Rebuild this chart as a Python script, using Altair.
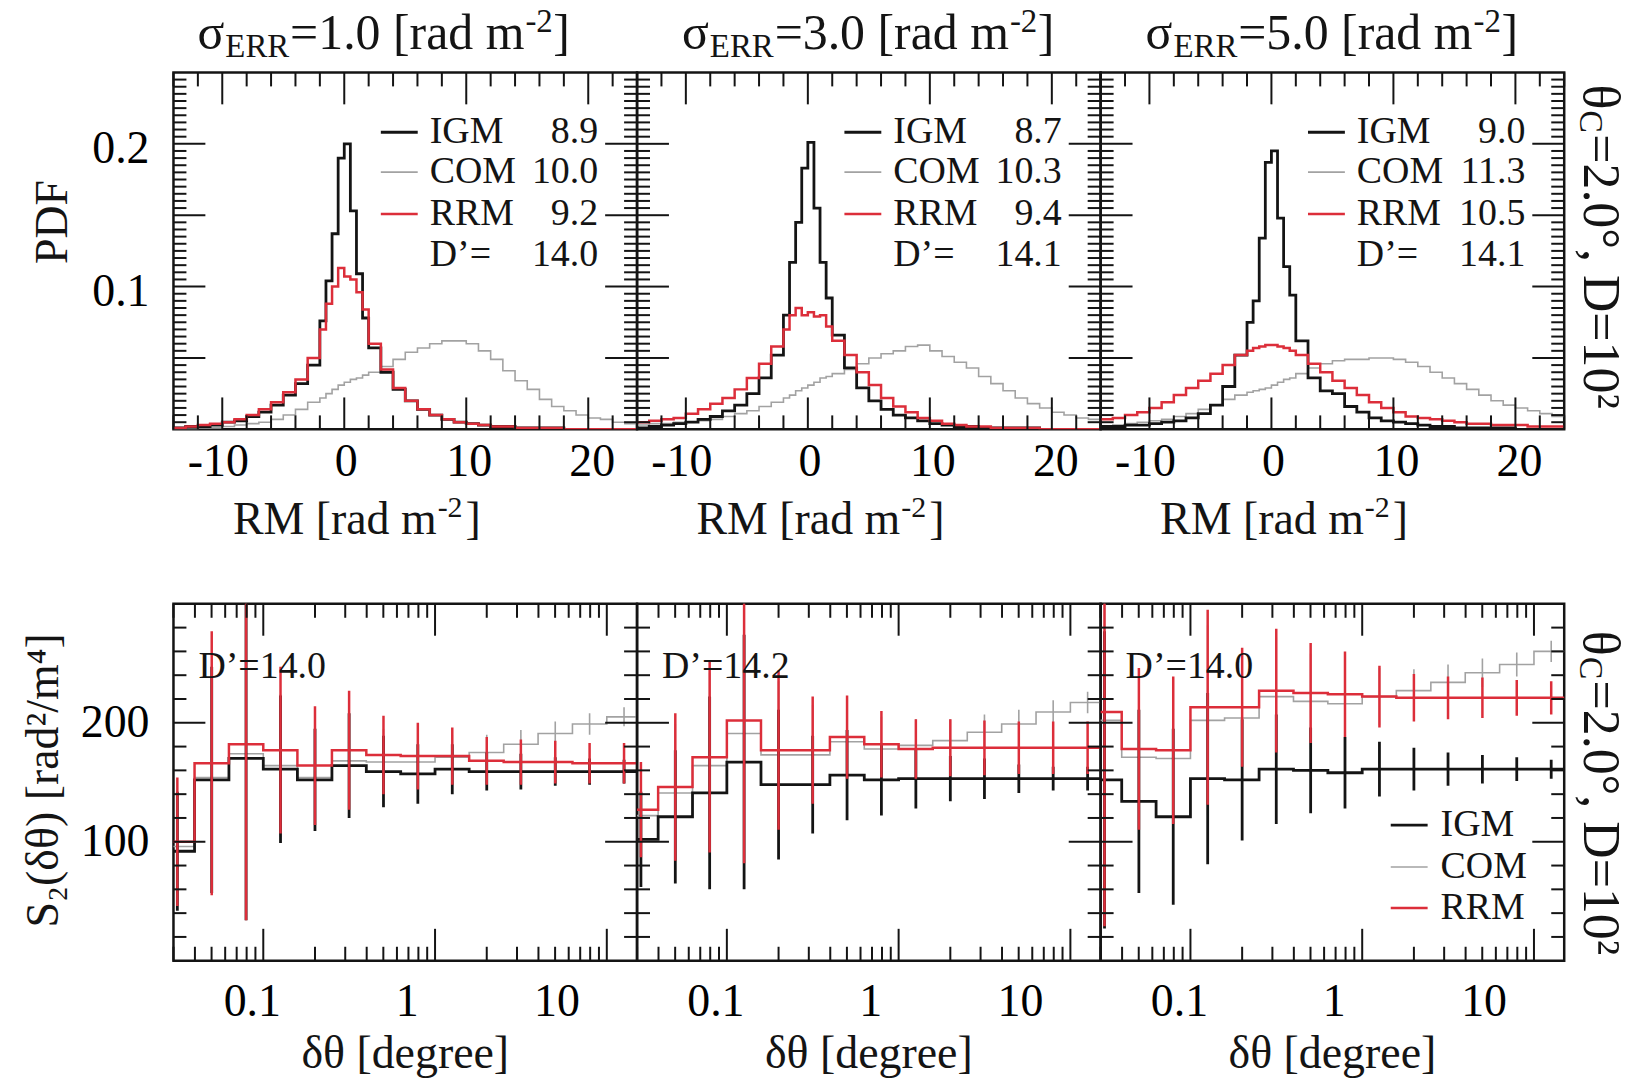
import altair as alt
import pandas as pd

FONT = "Liberation Serif, DejaVu Serif"
BLACK = "#141414"
GRAY = "#a2a2a2"
RED = "#dc2e3a"
W, H = 465, 358

# ---------------- top row: RM histograms ----------------
rm_edges = [-14, -13, -12, -11, -10, -9, -8, -7, -6, -5, -4, -3, -2,
            -1.5, -1, -0.5, 0, 0.5, 1, 1.5,
            2, 3, 4, 5, 6, 7, 8, 9, 10, 11, 12, 13, 14, 15, 16, 17, 18, 19, 20, 21, 22, 23, 24]

igm_1 = [0.001, 0.002, 0.002, 0.003, 0.005, 0.006, 0.009, 0.012, 0.017, 0.024, 0.032, 0.045,
         0.076, 0.104, 0.137, 0.190, 0.200, 0.153, 0.109, 0.078,
         0.057, 0.040, 0.028, 0.020, 0.014, 0.010, 0.007, 0.005, 0.004, 0.003, 0.002, 0.002,
         0.001, 0.001, 0.001, 0.001, 0.0, 0.0, 0.0, 0.0, 0.0, 0.0]
com_1 = [0.0, 0.0, 0.001, 0.001, 0.002, 0.003, 0.004, 0.005, 0.007, 0.010, 0.014, 0.019,
         0.022, 0.025, 0.028, 0.031, 0.033, 0.035, 0.036, 0.038,
         0.040, 0.044, 0.049, 0.054, 0.057, 0.060, 0.062, 0.062, 0.060, 0.055, 0.049, 0.041,
         0.034, 0.028, 0.021, 0.016, 0.013, 0.010, 0.008, 0.007, 0.005, 0.004]
rrm_1 = [0.001, 0.002, 0.003, 0.004, 0.005, 0.007, 0.010, 0.014, 0.019, 0.026, 0.035, 0.050,
         0.070, 0.088, 0.100, 0.113, 0.107, 0.105, 0.096, 0.084,
         0.060, 0.042, 0.029, 0.020, 0.014, 0.010, 0.007, 0.005, 0.004, 0.003, 0.002, 0.002,
         0.001, 0.001, 0.001, 0.001, 0.0, 0.0, 0.0, 0.0, 0.0, 0.0]

igm_2 = [0.001, 0.002, 0.003, 0.004, 0.005, 0.007, 0.009, 0.013, 0.017, 0.025, 0.036, 0.052,
         0.080, 0.117, 0.145, 0.183, 0.201, 0.155, 0.117, 0.092,
         0.066, 0.043, 0.029, 0.020, 0.014, 0.010, 0.008, 0.006, 0.004, 0.003, 0.002, 0.002,
         0.001, 0.001, 0.001, 0.001, 0.001, 0.0, 0.0, 0.0, 0.0, 0.0]
com_2 = [0.003, 0.004, 0.004, 0.005, 0.005, 0.006, 0.007, 0.009, 0.011, 0.013, 0.016, 0.019,
         0.022, 0.024, 0.027, 0.029, 0.031, 0.033, 0.036, 0.037,
         0.039, 0.042, 0.046, 0.050, 0.053, 0.055, 0.058, 0.059, 0.055, 0.051, 0.047, 0.043,
         0.037, 0.032, 0.027, 0.022, 0.018, 0.015, 0.012, 0.010, 0.008, 0.007]
rrm_2 = [0.005, 0.006, 0.007, 0.008, 0.011, 0.014, 0.018, 0.022, 0.028, 0.036, 0.046, 0.058,
         0.070, 0.080, 0.085, 0.080, 0.082, 0.079, 0.080, 0.072,
         0.062, 0.052, 0.040, 0.031, 0.022, 0.016, 0.012, 0.008, 0.006, 0.004, 0.003, 0.002,
         0.002, 0.001, 0.001, 0.001, 0.001, 0.0, 0.0, 0.0, 0.0, 0.0]

igm_3 = [0.002, 0.002, 0.003, 0.003, 0.004, 0.005, 0.006, 0.008, 0.011, 0.017, 0.030, 0.052,
         0.075, 0.090, 0.134, 0.187, 0.195, 0.148, 0.114, 0.094,
         0.062, 0.036, 0.027, 0.025, 0.016, 0.012, 0.008, 0.006, 0.005, 0.004, 0.003, 0.002,
         0.002, 0.001, 0.001, 0.001, 0.001, 0.001, 0.0, 0.0, 0.0, 0.0]
com_3 = [0.002, 0.003, 0.004, 0.005, 0.006, 0.007, 0.009, 0.011, 0.014, 0.017, 0.021, 0.024,
         0.026, 0.027, 0.028, 0.029, 0.031, 0.033, 0.035, 0.036,
         0.039, 0.043, 0.046, 0.048, 0.049, 0.049, 0.050, 0.050, 0.049, 0.047, 0.044, 0.040,
         0.036, 0.032, 0.028, 0.024, 0.020, 0.017, 0.015, 0.013, 0.011, 0.009]
rrm_3 = [0.007, 0.008, 0.010, 0.012, 0.015, 0.019, 0.024, 0.029, 0.034, 0.039, 0.045, 0.052,
         0.055, 0.057, 0.058, 0.059, 0.059, 0.058, 0.057, 0.055,
         0.052, 0.046, 0.040, 0.034, 0.029, 0.024, 0.019, 0.015, 0.012, 0.009, 0.008, 0.007,
         0.006, 0.005, 0.004, 0.004, 0.003, 0.003, 0.003, 0.002, 0.002, 0.002]

sigma_err = ["1.0", "3.0", "5.0"]
top_legend_vals = [["8.9", "10.0", "9.2", "14.0"],
                   ["8.7", "10.3", "9.4", "14.1"],
                   ["9.0", "11.3", "10.5", "14.1"]]
series_names = ["IGM", "COM", "RRM"]

rm_major = [-10, 0, 10, 20]
rm_labels = ["-10", "0", "10", "20"]
rm_minor = [-14, -12, -8, -6, -4, -2, 2, 4, 6, 8, 12, 14, 16, 18, 22, 24]
pdf_major = [0.05, 0.1, 0.15, 0.2]
pdf_minor = [round(i * 0.005, 3) for i in range(1, 50) if i % 10]
pdf_label_vals = [0.1, 0.2]
pdf_labels = ["0.1", "0.2"]

# ---------------- bottom row: structure functions ----------------
dth_edges = [0.0251, 0.0398, 0.0631, 0.1, 0.158, 0.251, 0.398, 0.631, 1.0, 1.58, 2.51, 3.98, 6.31, 10.0, 15.8]
dth_centers = [0.0316, 0.0501, 0.0794, 0.126, 0.2, 0.316, 0.501, 0.794, 1.26, 2.0, 3.16, 5.01, 7.94, 12.6]

s2_igm_1 = [92, 152, 170, 161, 152, 164, 159, 157, 161, 159, 159, 159, 159, 159]
s2_igm_err_1 = [50, 95, 136, 62, 43, 44, 30, 25, 21, 16, 15, 12, 11, 10]
s2_com_1 = [96, 154, 174, 164, 154, 168, 167, 167, 171, 175, 182, 191, 199, 205]
s2_com_err_1 = [45, 90, 130, 60, 42, 42, 28, 23, 19, 15, 12, 10, 9, 8]
s2_rrm_1 = [100, 166, 182, 177, 164, 177, 173, 172, 172, 168, 167, 167, 166, 166]
s2_rrm_err_1 = [54, 111, 148, 70, 50, 50, 33, 28, 24, 20, 19, 18, 17, 17]

s2_igm_2 = [102, 121, 141, 167, 148, 148, 156, 152, 153, 153, 153, 153, 153, 153]
s2_igm_err_2 = [40, 56, 81, 107, 63, 41, 38, 30, 25, 19, 17, 12, 10, 10]
s2_com_2 = [122, 141, 164, 191, 173, 173, 184, 178, 181, 185, 192, 199, 209, 217]
s2_com_err_2 = [38, 58, 78, 112, 62, 42, 34, 27, 22, 18, 15, 12, 10, 9]
s2_rrm_2 = [127, 146, 171, 202, 177, 177, 188, 182, 178, 179, 179, 179, 179, 179]
s2_rrm_err_2 = [40, 62, 80, 120, 67, 45, 35, 28, 25, 24, 23, 22, 22, 22]

s2_igm_3 = [152, 134, 121, 153, 152, 161, 160, 158, 161, 161, 161, 161, 161, 161]
s2_igm_err_3 = [125, 77, 74, 72, 51, 46, 36, 30, 23, 18, 14, 12, 10, 8]
s2_com_3 = [202, 171, 170, 202, 204, 222, 218, 216, 222, 227, 234, 242, 249, 260]
s2_com_err_3 = [120, 70, 68, 80, 50, 50, 40, 33, 24, 18, 15, 12, 10, 9]
s2_rrm_3 = [209, 178, 177, 213, 213, 227, 225, 224, 222, 221, 221, 221, 221, 221]
s2_rrm_err_3 = [180, 68, 62, 82, 50, 52, 42, 36, 26, 20, 18, 17, 15, 14]

bottom_dprime = ["14.0", "14.2", "14.0"]

dth_major = [0.1, 1, 10]
dth_minor = [0.03, 0.04, 0.05, 0.06, 0.07, 0.08, 0.09, 0.2, 0.3, 0.4, 0.5, 0.6, 0.7, 0.8, 0.9,
             2, 3, 4, 5, 6, 7, 8, 9]
dth_labels = ["0.1", "1", "10"]
dth_label_shift = [-11, -28, -50]
s2_major = [100, 200]
s2_labels = ["100", "200"]
s2_minor = [20, 40, 60, 80, 120, 140, 160, 180, 220, 240, 260, 280]

STYLE = {"IGM": (BLACK, 2.8), "COM": (GRAY, 1.6), "RRM": (RED, 2.5)}


def txt(s, x, y, size, align="left", baseline="alphabetic", angle=0, color=BLACK):
    m = dict(font=FONT, fontSize=size, align=align, baseline=baseline, color=color)
    if angle:
        m["angle"] = angle
    return alt.Chart(pd.DataFrame({"t": [s]})).mark_text(**m).encode(
        text=alt.Text("t:N"), x=alt.value(x), y=alt.value(y))


def seg(x1, x2, y, color, sw):
    return alt.Chart(pd.DataFrame({"a": [0]})).mark_rule(color=color, strokeWidth=sw).encode(
        x=alt.value(x1), x2=alt.value(x2), y=alt.value(y))


def tick_layers(xs, ys, xmaj, xmin, ymaj, ymin):
    out = []
    for vals, L in [(xmaj, 32), (xmin, 14)]:
        df = pd.DataFrame({"v": vals})
        base = alt.Chart(df).mark_rule(color=BLACK, strokeWidth=2)
        out.append(base.encode(x=alt.X("v:Q", scale=xs, axis=None), y=alt.value(H), y2=alt.value(H - L)))
        out.append(base.encode(x=alt.X("v:Q", scale=xs, axis=None), y=alt.value(0), y2=alt.value(L)))
    for vals, L in [(ymaj, 32), (ymin, 13)]:
        df = pd.DataFrame({"v": vals})
        base = alt.Chart(df).mark_rule(color=BLACK, strokeWidth=2)
        out.append(base.encode(y=alt.Y("v:Q", scale=ys, axis=None), x=alt.value(0), x2=alt.value(L)))
        out.append(base.encode(y=alt.Y("v:Q", scale=ys, axis=None), x=alt.value(W), x2=alt.value(W - L)))
    return out


def x_labels(xs, vals, labs, shifts, y):
    out = []
    for v, lab, sh in zip(vals, labs, shifts):
        out.append(alt.Chart(pd.DataFrame({"v": [v], "t": [lab]})).mark_text(
            font=FONT, fontSize=46, color="black", align="center", baseline="alphabetic", dx=sh).encode(
            x=alt.X("v:Q", scale=xs, axis=None), y=alt.value(y), text="t:N"))
    return out


def y_labels(ys, vals, labs, dy):
    df = pd.DataFrame({"v": vals, "t": labs})
    return [alt.Chart(df).mark_text(font=FONT, fontSize=46, color="black", align="right",
                                    baseline="middle", dy=dy).encode(
        y=alt.Y("v:Q", scale=ys, axis=None), x=alt.value(-24), text="t:N")]


def right_note(y0):
    return [txt("θ", W + 36, y0, 52, baseline="middle", angle=90),
            txt("C", W + 26, y0 + 26, 34, baseline="middle", angle=90),
            txt("=2.0°, D=10²", W + 36, y0 + 50, 52, baseline="middle", angle=90)]


def unit_title(prefix, xc, y, size, sup_size):
    # "<prefix> [rad m" + superscript "-2" + "]"
    return [txt(prefix + " [rad m", xc, y, size, align="right"),
            txt("-2", xc + 1, y - 17, sup_size),
            txt("]", xc + 29, y, size)]


def top_panel(k, igm, com, rrm):
    xs = alt.Scale(domain=[-14, 24], nice=False, zero=False)
    ys = alt.Scale(domain=[0, 0.25], nice=False, zero=False)
    layers = []
    for name, vals in [("COM", com), ("IGM", igm), ("RRM", rrm)]:
        col, sw = STYLE[name]
        df = pd.DataFrame({"x": rm_edges, "y": list(vals) + [vals[-1]]})
        layers.append(alt.Chart(df).mark_line(interpolate="step-after", clip=True, color=col,
                                              strokeWidth=sw).encode(
            x=alt.X("x:Q", scale=xs, axis=None),
            y=alt.Y("y:Q", scale=ys, axis=None)))
    layers += tick_layers(xs, ys, rm_major, rm_minor, pdf_major, pdf_minor)
    layers += x_labels(xs, rm_major, rm_labels, [-4, 2, 3, 4], H + 47)
    if k == 0:
        layers += y_labels(ys, pdf_label_vals, pdf_labels, 5)
    # legend
    rows = [60, 100, 142, 183]
    for r, name in enumerate(series_names):
        col, sw = STYLE[name]
        layers.append(seg(208, 245, rows[r], col, sw))
        layers.append(txt(name, 257, rows[r], 38, baseline="middle"))
    layers.append(txt("D’=", 257, rows[3], 38, baseline="middle"))
    for r in range(4):
        layers.append(txt(top_legend_vals[k][r], 426, rows[r], 38, align="right", baseline="middle"))
    # title  sigma_ERR = x [rad m^-2]
    x0 = 24 if k == 0 else 45
    layers.append(txt("σ", x0, -24, 50))
    layers.append(txt("ERR", x0 + 28, -15, 33))
    layers += unit_title("=" + sigma_err[k], x0 + 328, -24, 50, 33)
    # axis title
    layers += unit_title("RM", 264, 463, 46, 30)
    if k == 0:
        layers.append(txt("PDF", -121, 150, 46, align="center", baseline="middle", angle=270))
    if k == 2:
        layers += right_note(12)
    return alt.layer(*layers).properties(width=W, height=H)


def bottom_panel(k, igm, igm_e, com, com_e, rrm, rrm_e):
    xs = alt.Scale(type="log", domain=[0.03, 15], nice=False)
    ys = alt.Scale(domain=[0, 300], nice=False, zero=False)
    layers = []
    for name, vals, errs in [("COM", com, com_e), ("IGM", igm, igm_e), ("RRM", rrm, rrm_e)]:
        col, sw = STYLE[name]
        df = pd.DataFrame({"x": dth_edges, "y": list(vals) + [vals[-1]]})
        layers.append(alt.Chart(df).mark_line(interpolate="step-after", clip=True, color=col,
                                              strokeWidth=sw).encode(
            x=alt.X("x:Q", scale=xs, axis=None),
            y=alt.Y("y:Q", scale=ys, axis=None)))
        edf = pd.DataFrame({"x": dth_centers,
                            "lo": [v - e for v, e in zip(vals, errs)],
                            "hi": [v + e for v, e in zip(vals, errs)]})
        layers.append(alt.Chart(edf).mark_rule(clip=True, color=col, strokeWidth=sw).encode(
            x=alt.X("x:Q", scale=xs, axis=None),
            y=alt.Y("lo:Q", scale=ys, axis=None), y2="hi:Q"))
    layers += tick_layers(xs, ys, dth_major, dth_minor, s2_major, s2_minor)
    # tick labels (placed as in the original figure)
    layers += x_labels(xs, dth_major, dth_labels, dth_label_shift, H + 55)
    if k == 0:
        layers += y_labels(ys, s2_major, s2_labels, 0)
    layers.append(txt("D’=" + bottom_dprime[k], 25, 74, 38))
    layers.append(txt("δθ [degree]", W / 2, 466, 46, align="center"))
    if k == 0:
        layers.append(txt("S₂(δθ) [rad²/m⁴]", -130, 177, 46, align="center", baseline="middle", angle=270))
    if k == 2:
        rows = [222, 264, 305]
        for r, name in enumerate(series_names):
            col, sw = STYLE[name]
            layers.append(seg(291, 328, rows[r], col, sw))
            layers.append(txt(name, 341, rows[r], 38, baseline="middle"))
        layers += right_note(27)
    return alt.layer(*layers).properties(width=W, height=H)


panels = [top_panel(0, igm_1, com_1, rrm_1),
          top_panel(1, igm_2, com_2, rrm_2),
          top_panel(2, igm_3, com_3, rrm_3),
          bottom_panel(0, s2_igm_1, s2_igm_err_1, s2_com_1, s2_com_err_1, s2_rrm_1, s2_rrm_err_1),
          bottom_panel(1, s2_igm_2, s2_igm_err_2, s2_com_2, s2_com_err_2, s2_rrm_2, s2_rrm_err_2),
          bottom_panel(2, s2_igm_3, s2_igm_err_3, s2_com_3, s2_com_err_3, s2_rrm_3, s2_rrm_err_3)]

chart = alt.concat(*panels, columns=3, spacing={"row": 175, "column": 0}, bounds="flush").configure(
    padding={"left": 19, "top": 2, "right": 5, "bottom": 5}, background="white",
    view=alt.ViewConfig(stroke=BLACK, strokeWidth=2.5))

chart.save("out.html", embed_options={"renderer": "svg", "actions": False})
